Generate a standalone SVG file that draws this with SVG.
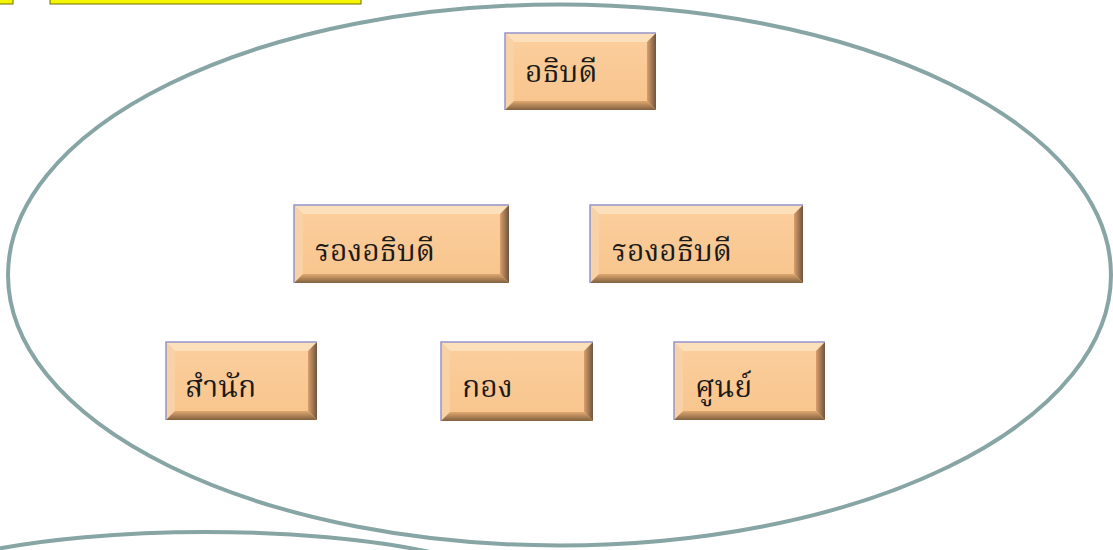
<svg xmlns="http://www.w3.org/2000/svg" width="1113" height="550" viewBox="0 0 1113 550">
<defs>
<style>
.ring{fill:none;stroke:#87A5A5;stroke-width:4}
.face{fill:url(#gFace)}
.bt{fill:#FCE0BC}
.bl{fill:#F8D2A6}
.br{fill:url(#gRight)}
.bb{fill:url(#gBottom)}
.edge{fill:none;stroke:#9494CC;stroke-width:1.5}
.lbl{font-family:"Noto Serif Thai","Noto Sans Thai","Tlwg Typo","DejaVu Serif",serif;font-size:30px;fill:#1a1a1a}
.tag{fill:#F5F500;stroke:#6E6E00;stroke-width:1}
</style>
<linearGradient id="gFace" x1="0" y1="0" x2="0" y2="1">
<stop offset="0" stop-color="#FBCF9E"/>
<stop offset="1" stop-color="#F8C48C"/>
</linearGradient>
<linearGradient id="gRight" x1="0" y1="0" x2="1" y2="0">
<stop offset="0" stop-color="#D9A06A"/>
<stop offset="1" stop-color="#6E5440"/>
</linearGradient>
<linearGradient id="gBottom" x1="0" y1="0" x2="0" y2="1">
<stop offset="0" stop-color="#E0A870"/>
<stop offset="1" stop-color="#80603F"/>
</linearGradient>
</defs>
<rect width="1113" height="550" fill="#FFFFFF"/>
<g id="tags">
<rect class="tag" x="-2" y="-2" width="15" height="6"/>
<rect class="tag" x="50" y="-2" width="311" height="6"/>
</g>
<g id="frame">
<ellipse class="ring" cx="559.5" cy="275" rx="551.5" ry="270.5"/>
<ellipse class="ring" cx="206" cy="607" rx="330" ry="75"/>
</g>
<g id="connectors"></g>
<g id="n-head">
<rect class="face" x="505" y="33" width="151" height="77"/>
<polygon class="bt" points="505,33 656,33 647,42 514,42"/>
<polygon class="bl" points="505,33 514,42 514,101 505,110"/>
<polygon class="br" points="656,33 656,110 647,101 647,42"/>
<polygon class="bb" points="505,110 514,101 647,101 656,110"/>
<polyline class="edge" points="505,110 505,33 656,33"/>
<text class="lbl" x="525" y="82">อธิบดี</text>
</g>
<g id="n-deputy1">
<rect class="face" x="294" y="205" width="215" height="78"/>
<polygon class="bt" points="294,205 509,205 500,214 303,214"/>
<polygon class="bl" points="294,205 303,214 303,274 294,283"/>
<polygon class="br" points="509,205 509,283 500,274 500,214"/>
<polygon class="bb" points="294,283 303,274 500,274 509,283"/>
<polyline class="edge" points="294,283 294,205 509,205"/>
<text class="lbl" x="315" y="261">รองอธิบดี</text>
</g>
<g id="n-deputy2">
<rect class="face" x="590" y="205" width="213" height="78"/>
<polygon class="bt" points="590,205 803,205 794,214 599,214"/>
<polygon class="bl" points="590,205 599,214 599,274 590,283"/>
<polygon class="br" points="803,205 803,283 794,274 794,214"/>
<polygon class="bb" points="590,283 599,274 794,274 803,283"/>
<polyline class="edge" points="590,283 590,205 803,205"/>
<text class="lbl" x="612" y="261">รองอธิบดี</text>
</g>
<g id="n-office">
<rect class="face" x="166" y="342" width="151" height="78"/>
<polygon class="bt" points="166,342 317,342 308,351 175,351"/>
<polygon class="bl" points="166,342 175,351 175,411 166,420"/>
<polygon class="br" points="317,342 317,420 308,411 308,351"/>
<polygon class="bb" points="166,420 175,411 308,411 317,420"/>
<polyline class="edge" points="166,420 166,342 317,342"/>
<text class="lbl" x="185" y="397">สำนัก</text>
</g>
<g id="n-division">
<rect class="face" x="441" y="342" width="152" height="79"/>
<polygon class="bt" points="441,342 593,342 584,351 450,351"/>
<polygon class="bl" points="441,342 450,351 450,412 441,421"/>
<polygon class="br" points="593,342 593,421 584,412 584,351"/>
<polygon class="bb" points="441,421 450,412 584,412 593,421"/>
<polyline class="edge" points="441,421 441,342 593,342"/>
<text class="lbl" x="462" y="397">กอง</text>
</g>
<g id="n-center">
<rect class="face" x="674" y="342" width="151" height="78"/>
<polygon class="bt" points="674,342 825,342 816,351 683,351"/>
<polygon class="bl" points="674,342 683,351 683,411 674,420"/>
<polygon class="br" points="825,342 825,420 816,411 816,351"/>
<polygon class="bb" points="674,420 683,411 816,411 825,420"/>
<polyline class="edge" points="674,420 674,342 825,342"/>
<text class="lbl" x="695" y="397">ศูนย์</text>
</g>
</svg>
